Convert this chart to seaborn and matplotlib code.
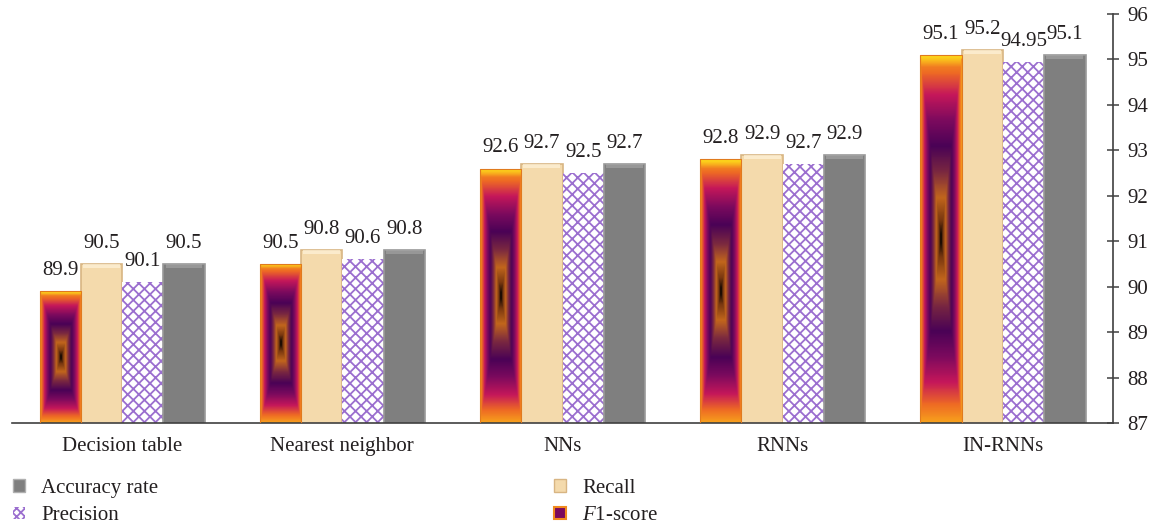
import numpy as np
import pandas as pd
import matplotlib
matplotlib.use('Agg')
import matplotlib.pyplot as plt
import seaborn as sns
from matplotlib.patches import Patch
from matplotlib.colors import LinearSegmentedColormap, to_rgb

# ---------------- data ----------------
categories = ['Decision table', 'Nearest neighbor', 'NNs', 'RNNs', 'IN-RNNs']
f1_score = [89.9, 90.5, 92.6, 92.8, 95.1]
recall = [90.5, 90.8, 92.7, 92.9, 95.2]
precision = [90.1, 90.6, 92.5, 92.7, 94.95]
accuracy = [90.5, 90.8, 92.7, 92.9, 95.1]
metrics = ['F1-score', 'Recall', 'Precision', 'Accuracy rate']
y_ticks = [87, 88, 89, 90, 91, 92, 93, 94, 95, 96]

sns.set_style('white')
plt.rcParams['font.family'] = ['Liberation Serif', 'DejaVu Serif']
plt.rcParams['mathtext.fontset'] = 'custom'
plt.rcParams['mathtext.rm'] = 'Liberation Serif'
plt.rcParams['mathtext.it'] = 'Liberation Serif:italic'
plt.rcParams['hatch.linewidth'] = 1.3

FS = 15

df = pd.DataFrame({
    'Model': categories * 4,
    'Metric': np.repeat(metrics, len(categories)),
    'Value': f1_score + recall + precision + accuracy,
})

palette = {'F1-score': '#8B1A4F', 'Recall': '#F4DAAC',
           'Precision': '#FFFFFF', 'Accuracy rate': '#7F7F7F'}

fig = plt.figure(figsize=(11.54, 5.29), dpi=100)
ax = fig.add_axes([0.0104, 0.2004, 0.9541, 0.7731])

sns.barplot(data=df, x='Model', y='Value', hue='Metric', hue_order=metrics,
            order=categories, palette=palette, width=0.75, gap=0,
            saturation=1, legend=False, ax=ax)

ymin, ymax = 87, 96
ax.set_ylim(ymin, ymax)
ax.set_xlim(-0.5, len(categories) - 0.5)

# gradient colormap for F1 bars
grad_cmap = LinearSegmentedColormap.from_list('f1grad', [
    (0.00, '#F8A21C'), (0.10, '#EE6A24'), (0.22, '#C5175A'),
    (0.36, '#7C0A5E'), (0.50, '#4A0256'), (0.64, '#7A2840'),
    (0.78, '#C2661C'), (0.90, '#7A3810'), (1.00, '#000000')])


def gradient_image(ny, nx):
    u = (np.arange(nx) + 0.5) / nx
    v = (np.arange(ny) + 0.5) / ny
    U, V = np.meshgrid(u, v)
    dx = 1 - np.abs(2 * U - 1)
    dy = 1 - np.abs(2 * V - 1)
    t = np.minimum(dx, dy)
    rgb = grad_cmap(t)[..., :3]
    top = (V < 0.5) & (dy <= dx)
    w = np.clip(1 - dy / 0.07, 0, 1) * top
    yel = np.array(to_rgb('#FFE21A'))
    rgb = rgb * (1 - w[..., None]) + yel * w[..., None]
    return rgb


def bevel(bar, color, alpha):
    # soft light top bevel strip
    x0 = bar.get_x()
    w = bar.get_width()
    h_top = bar.get_y() + bar.get_height()
    ax.fill_between([x0 + 0.01, x0 + w - 0.01], h_top - 0.09, h_top,
                    color=color, alpha=alpha, linewidth=0, zorder=3)


containers = ax.containers
for metric, cont in zip(metrics, containers):
    for bar in cont:
        if metric == 'F1-score':
            x0 = bar.get_x()
            w = bar.get_width()
            h_top = bar.get_y() + bar.get_height()
            ny = max(40, int((h_top - ymin) * 60))
            img = gradient_image(ny, 40)
            im = ax.imshow(img, extent=[x0, x0 + w, ymin, h_top],
                           origin='upper', aspect='auto',
                           interpolation='bilinear', zorder=2)
            im.set_clip_path(bar)
            bar.set_facecolor('none')
            bar.set_edgecolor('#E07A1E')
            bar.set_linewidth(0.8)
            bar.set_zorder(3)
        elif metric == 'Recall':
            bar.set_edgecolor('#D8B583')
            bar.set_linewidth(1.2)
            bevel(bar, '#FFF3DA', 0.7)
        elif metric == 'Precision':
            bar.set_facecolor('white')
            bar.set_edgecolor('#9B6FCF')
            bar.set_hatch('xxx')
            bar.set_linewidth(0)
        else:
            bar.set_edgecolor('#9A9A9A')
            bar.set_linewidth(1.2)
            bevel(bar, '#A8A8A8', 0.6)

value_lists = [f1_score, recall, precision, accuracy]
for cont, vals in zip(containers, value_lists):
    ax.bar_label(cont, labels=[f'{v:g}' for v in vals], padding=8,
                 fontsize=FS, color='#231F20')

# axes styling
ax.set_xlabel('')
ax.set_ylabel('')
ax.set_xticks(range(len(categories)))
ax.set_xticklabels(categories)
ax.set_xticks(np.arange(-0.5, len(categories), 1), minor=True)
ax.tick_params(axis='x', which='major', length=0, pad=10, labelsize=FS,
               colors='#231F20')
ax.tick_params(axis='x', which='minor', length=6, direction='out',
               width=1.1, color='#404040')
ax.yaxis.tick_right()
ax.set_yticks(y_ticks)
ax.tick_params(axis='y', which='major', length=8, direction='inout', width=1.1,
               color='#404040', pad=6, labelsize=FS, labelcolor='#231F20')
ax.spines['left'].set_visible(False)
ax.spines['top'].set_visible(False)
for s in ['bottom', 'right']:
    ax.spines[s].set_color('#404040')
    ax.spines[s].set_linewidth(1.2)
ax.grid(False)

# legend
handles = [
    Patch(facecolor='#7F7F7F', edgecolor='#B0B0B0', linewidth=1),
    Patch(facecolor='white', edgecolor='#9B6FCF', hatch='xxxx', linewidth=0),
    Patch(facecolor='#F4DAAC', edgecolor='#D8B583', linewidth=1),
    Patch(facecolor='#7A0A5E', edgecolor='#F08A1E', linewidth=1.5),
]
labels = ['Accuracy rate', 'Precision', 'Recall', r'$\mathit{F}$1-score']
fig.legend(handles, labels, loc='upper left', ncol=2,
           bbox_to_anchor=(0.006, 0.107), borderaxespad=0,
           frameon=False, fontsize=FS, handlelength=0.55, handleheight=0.55,
           handletextpad=0.8, labelspacing=0.42, borderpad=0.3,
           columnspacing=19.0, labelcolor='#231F20')

fig.savefig('out.png', dpi=100)
